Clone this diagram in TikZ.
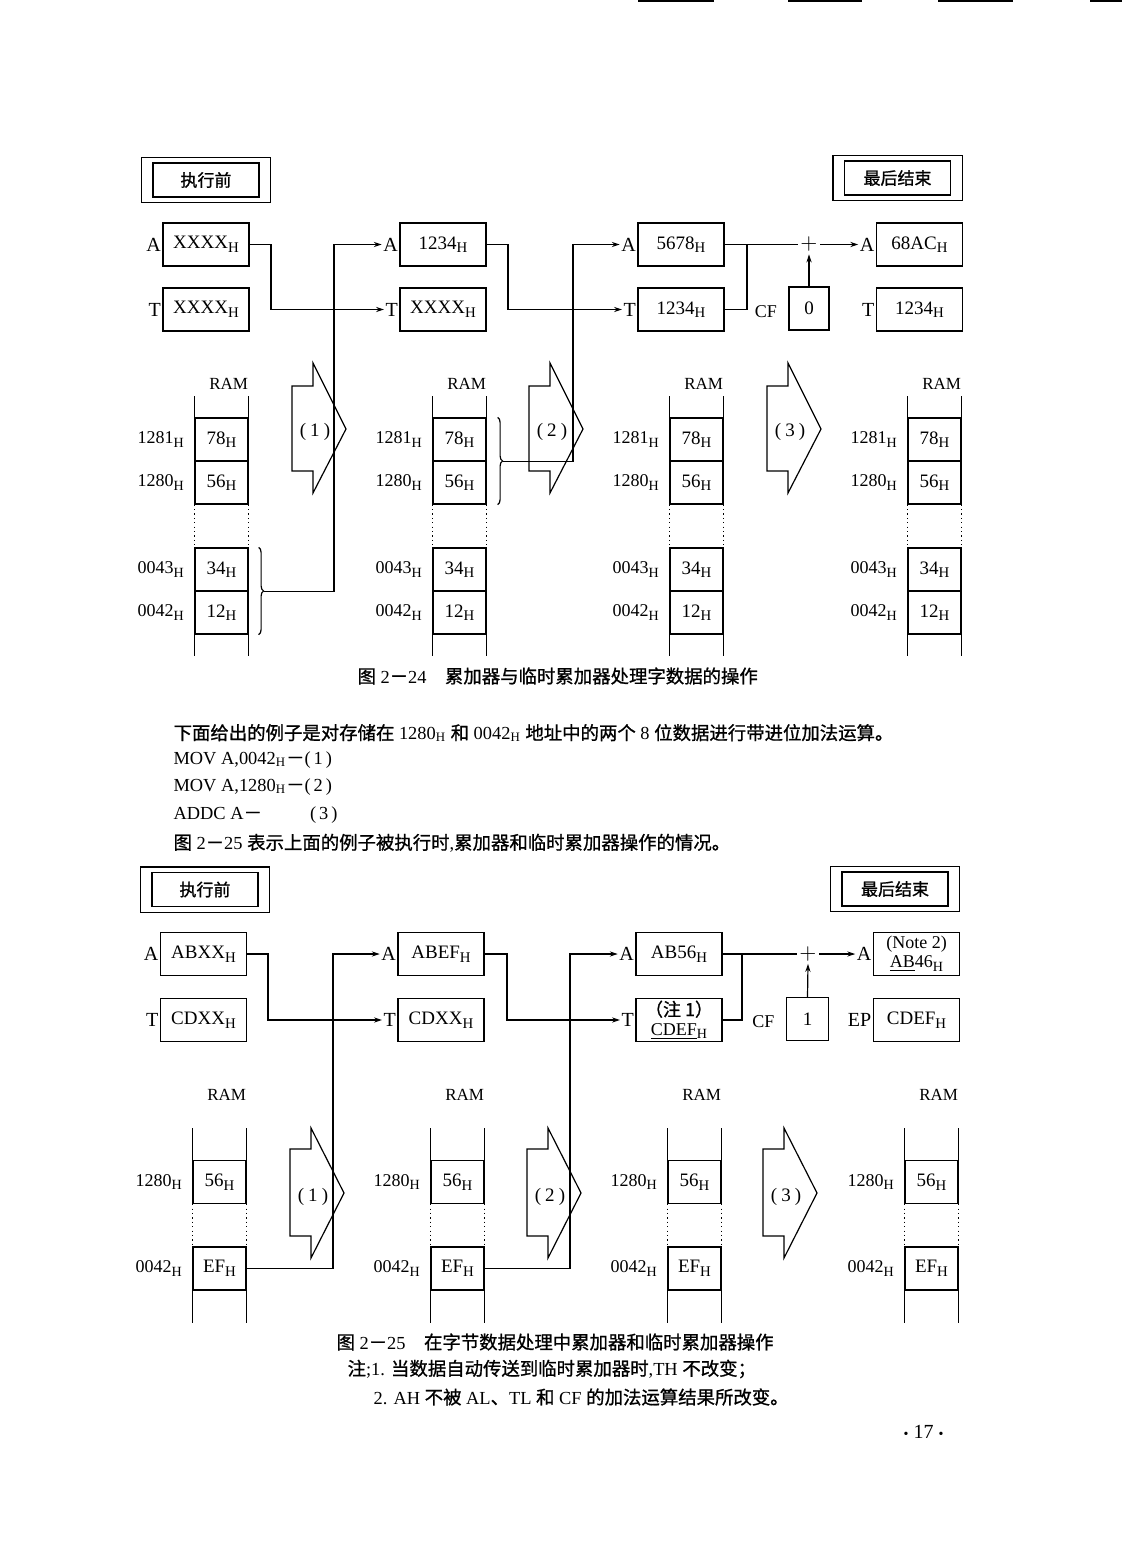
\documentclass[tikz,border=0pt]{standalone}
\usepackage{fontspec}
\setmainfont{Liberation Serif}
\newfontfamily\cjk{Noto Sans CJK SC}[FakeBold=1]
\usetikzlibrary{arrows.meta, calc, positioning, fit, decorations.pathreplacing}
\newcommand\hsub{\raisebox{-0.4ex}{\scalebox{0.78}{H}}}
\newcommand\hsmall{\textsubscript{H}}
\newcommand\zh[1]{{\cjk #1}}

\begin{document}
\begin{tikzpicture}[
    x=0.5pt, y=-0.5pt,
    line width=0.6pt,
    reg/.style={draw, minimum width=43pt, minimum height=21.5pt, inner sep=1pt,
                align=center, font=\fontsize{9.5}{11}\selectfont},
    reg2/.style={reg, font=\fontsize{9}{9.6}\selectfont},
    lab/.style={inner sep=0.5pt, font=\fontsize{10}{11}\selectfont},
    cell/.style={draw, minimum width=26.5pt, minimum height=21.5pt, inner sep=0pt,
                 font=\fontsize{9.5}{10}\selectfont},
    addr/.style={inner sep=1pt, font=\fontsize{9}{10}\selectfont},
    ramlab/.style={inner sep=0pt, font=\fontsize{8.5}{10}\selectfont},
    tag/.style={draw, minimum width=53pt, minimum height=17pt, inner sep=0pt,
                font=\fontsize{8.5}{10}\cjk},
    tagout/.style={draw, inner xsep=5.5pt, inner ysep=2.5pt},
    stepno/.style={inner sep=0pt, font=\fontsize{9.5}{10}\selectfont},
    plus/.style={inner sep=1pt, font=\fontsize{11}{12}\selectfont},
    flow/.style={-{Stealth[length=4pt,width=2.6pt]}},
    brc/.style={decorate, decoration={brace, amplitude=2.5pt}},
    gap/.style={line width=0.5pt, dash pattern=on 0.6pt off 1.6pt},
    txt/.style={anchor=west, inner sep=0pt, font=\fontsize{9.2}{11}\selectfont},
]
\useasboundingbox (0,0) rectangle (1122,1568);
% edge marks from the scan
\draw (638,1) -- (714,1) (788,1) -- (862,1) (938,1) -- (1013,1) (1090,1) -- (1122,1);

% ---------------- figure 2-24 ----------------
\node[tag] (pre1) at (206,180) {执行前};
\node[tagout, fit=(pre1)] (pre1box) {};
\node[tag] (end1) at (897.5,178) {最后结束};
\node[tagout, fit=(end1)] (end1box) {};

\node[reg] (wA1) at (206,244.5) {XXXX\hsub};
\node[reg] (wT1) at (206,309.5) {XXXX\hsub};
\node[reg] (wA2) at (443,244.5) {1234\hsub};
\node[reg] (wT2) at (443,309.5) {XXXX\hsub};
\node[reg] (wA3) at (681,244.5) {5678\hsub};
\node[reg] (wT3) at (681,309.5) {1234\hsub};
\node[reg, minimum width=20pt] (wCF) at (809,308.5) {0};
\node[reg] (wA4) at (919.5,244.5) {68AC\hsub};
\node[reg] (wT4) at (919.5,309.5) {1234\hsub};
\foreach \i in {1,...,4} {
  \node[lab, left=0pt of wA\i] (wlA\i) {A};
  \node[lab, left=0pt of wT\i] (wlT\i) {T};
}
\node[lab, font=\fontsize{9}{10}\selectfont, left=5pt of wCF, yshift=-1.5pt] (wlCF) {CF};
\node[plus] (wP) at (809,244.5) {$+$};

% memory columns
\foreach \c/\x in {1/221.5, 2/459.5, 3/696.5, 4/934.5} {
  \node[cell] (wma\c) at (\x,439.5) {78\hsub};
  \node[cell] (wmb\c) at (\x,482.5) {56\hsub};
  \node[cell] (wmc\c) at (\x,569.5) {34\hsub};
  \node[cell] (wmd\c) at (\x,612.5) {12\hsub};
  \node[addr, left=4pt of wma\c] (wda\c) {1281\hsub};
  \node[addr, left=4pt of wmb\c] (wdb\c) {1280\hsub};
  \node[addr, left=4pt of wmc\c] (wdc\c) {0043\hsub};
  \node[addr, left=4pt of wmd\c] (wdd\c) {0042\hsub};
  \draw (wma\c.north west) -- ++(0,-21) (wma\c.north east) -- ++(0,-21);
  \draw[gap] (wmb\c.south west) -- (wmc\c.north west)
             (wmb\c.south east) -- (wmc\c.north east);
  \draw (wmd\c.south west) -- ++(0,21) (wmd\c.south east) -- ++(0,21);
  \node[ramlab, anchor=east] (wram\c) at ([yshift=17pt]wma\c.north east) {RAM};
}

% step arrows
\foreach \s/\n in {292/1, 529/2, 767/3} {
  \draw (\s,386) -- ++(21,0) -- ++(0,-23) -- ++(33,66) -- ++(-33,64)
        -- ++(0,-22) -- ++(-21,0) -- cycle;
  \node[stepno] (wst\n) at (\s+23,432) {(\hspace{2pt}\n\hspace{2pt})};
}

% data paths
\draw[brc] ([xshift=5pt]wmc1.north east) -- ([xshift=5pt]wmd1.south east);
\coordinate (wb1) at ([xshift=7.5pt]wmc1.south east);
\draw[brc] ([xshift=5.5pt]wma2.north east) -- ([xshift=5.5pt]wmb2.south east);
\coordinate (wb2) at ([xshift=8pt]wma2.south east);
\coordinate (wk1) at (271,309.5);
\coordinate (wk2) at (334,244.5);
\coordinate (wk3) at (508,309.5);
\coordinate (wk4) at (573,244.5);
\coordinate (wj) at (747,244.5);
\draw[flow] (wA1.east) -| (wk1) -- (wlT2.west);
\draw[flow] (wb1) -| (wk2) -- (wlA2.west);
\draw[flow] (wA2.east) -| (wk3) -- (wlT3.west);
\draw[flow] (wb2) -| (wk4) -- (wlA3.west);
\draw (wT3.east) -| (wj);
\draw (wA3.east) -- (wP.west);
\draw[flow] (wP.east) -- (wlA4.west);
\draw[flow] (wCF.north) -- (wP.south);

\node[txt] (cap1) at (357,676) {\zh{图} 2\zh{－}24\quad\zh{累加器与临时累加器处理字数据的操作}};

% ---------------- text ----------------
\node[txt] (line1) at (173,733) {\zh{下面给出的例子是对存储在} 1280\hsmall{} \zh{和} 0042\hsmall{} \zh{地址中的两个} 8 \zh{位数据进行带进位加法运算。}};
\node[txt] (line2) at (173,760) {MOV A,0042\hsmall\zh{－}(\,1\,)};
\node[txt] (line3) at (173,787) {MOV A,1280\hsmall\zh{－}(\,2\,)};
\node[txt] (line4) at (173,815) {ADDC A\zh{－}\hspace{24pt}(\,3\,)};
\node[txt] (line5) at (173,843) {\zh{图} 2\zh{－}25 \zh{表示上面的例子被执行时},\zh{累加器和临时累加器操作的情况。}};

% ---------------- figure 2-25 ----------------
\node[tag] (pre2) at (205,889.5) {执行前};
\node[tagout, fit=(pre2)] (pre2box) {};
\node[tag] (end2) at (895,889) {最后结束};
\node[tagout, fit=(end2)] (end2box) {};

\node[reg] (bA1) at (203.5,954) {ABXX\hsub};
\node[reg] (bT1) at (203.5,1020) {CDXX\hsub};
\node[reg] (bA2) at (441,954) {ABEF\hsub};
\node[reg] (bT2) at (441,1020) {CDXX\hsub};
\node[reg] (bA3) at (679,954) {AB56\hsub};
\node[reg2] (bT3) at (679,1020) {\zh{（注\ 1）}\\\underline{CDEF}\hsub};
\node[reg, minimum width=21pt] (bCF) at (807.5,1019) {1};
\node[reg2] (bA4) at (916.5,954) {(Note\ 2)\\\underline{AB}46\hsub};
\node[reg] (bT4) at (916.5,1020) {CDEF\hsub};
\foreach \i in {1,2,3} {
  \node[lab, left=0pt of bA\i] (blA\i) {A};
  \node[lab, left=0pt of bT\i] (blT\i) {T};
}
\node[lab, left=0pt of bA4] (blA4) {A};
\node[lab, left=0pt of bT4] (blT4) {EP};
\node[lab, font=\fontsize{9}{10}\selectfont, left=5pt of bCF, yshift=-1.5pt] (blCF) {CF};
\node[plus] (bP) at (808,954) {$+$};

% memory columns
\foreach \c/\x in {1/219.5, 2/457.5, 3/694.5, 4/931.5} {
  \node[cell] (bma\c) at (\x,1182) {56\hsub};
  \node[cell] (bmb\c) at (\x,1268.5) {EF\hsub};
  \node[addr, left=4pt of bma\c] (bda\c) {1280\hsub};
  \node[addr, left=4pt of bmb\c] (bdb\c) {0042\hsub};
  \draw (bma\c.north west) -- ++(0,-32) (bma\c.north east) -- ++(0,-32);
  \draw[gap] (bma\c.south west) -- (bmb\c.north west)
             (bma\c.south east) -- (bmb\c.north east);
  \draw (bmb\c.south west) -- ++(0,32) (bmb\c.south east) -- ++(0,32);
  \node[ramlab, anchor=east] (bram\c) at ([yshift=32.5pt]bma\c.north east) {RAM};
}

% step arrows
\foreach \s/\n in {290/1, 527/2, 763/3} {
  \draw (\s,1149) -- ++(21,0) -- ++(0,-21) -- ++(33,65) -- ++(-33,65)
        -- ++(0,-22) -- ++(-21,0) -- cycle;
  \node[stepno] (bst\n) at (\s+23,1197) {(\hspace{2pt}\n\hspace{2pt})};
}

% data paths
\coordinate (bk1) at (268,1020);
\coordinate (bk2) at (333,954);
\coordinate (bk3) at (507,1020);
\coordinate (bk4) at (570,954);
\coordinate (bj) at (742,954);
\draw[flow] (bA1.east) -| (bk1) -- (blT2.west);
\draw[flow] (bmb1.east) -| (bk2) -- (blA2.west);
\draw[flow] (bA2.east) -| (bk3) -- (blT3.west);
\draw[flow] (bmb2.east) -| (bk4) -- (blA3.west);
\draw (bT3.east) -| (bj);
\draw (bA3.east) -- (bP.west);
\draw[flow] (bP.east) -- (blA4.west);
\draw[flow] (bCF.north) -- (bP.south);

\node[txt] (cap2) at (336,1342) {\zh{图} 2\zh{－}25\quad\zh{在字节数据处理中累加器和临时累加器操作}};
\node[txt] (note1) at (347,1369) {\zh{注};1. \zh{当数据自动传送到临时累加器时},TH \zh{不改变；}};
\node[txt] (note2) at (373,1397) {2. AH \zh{不被} AL\zh{、}TL \zh{和} CF \zh{的加法运算结果所改变。}};
\node[txt, font=\fontsize{10}{11}\selectfont] (pageno) at (903,1432) {{\scriptsize\textbullet} 17 {\scriptsize\textbullet}};
\end{tikzpicture}
\end{document}
